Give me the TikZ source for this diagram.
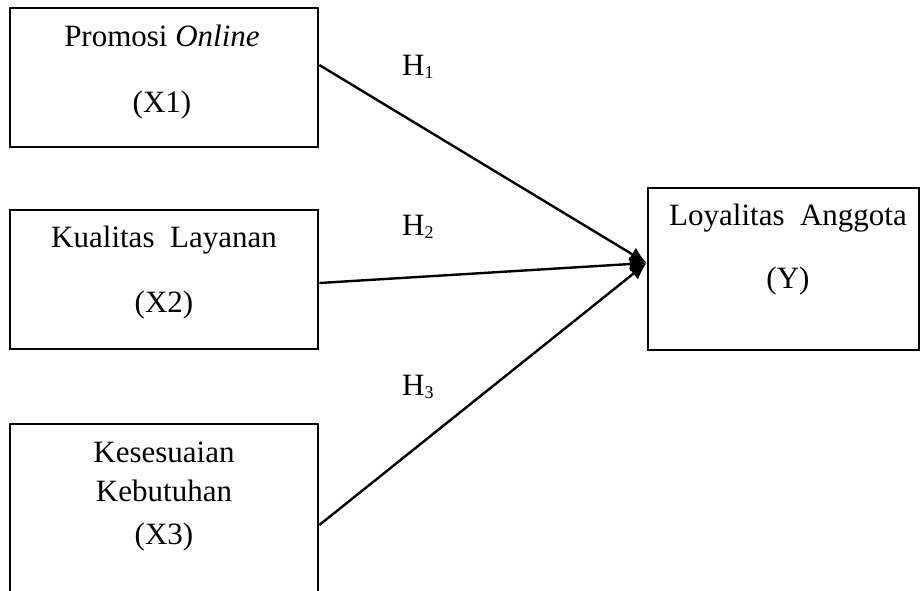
\documentclass[tikz,border=0pt]{standalone}
\usepackage{fontspec}
\setmainfont{Liberation Serif}
\usepackage{tikz}
\usetikzlibrary{arrows.meta,positioning,calc}
\newcommand{\hyp}[1]{H\raisebox{-3pt}{\fontsize{18}{18}\selectfont #1}}
\tikzset{
  box/.style={draw,line width=2.6pt,inner sep=0pt},
  txt/.style={font=\fontsize{31}{39}\selectfont,align=center,inner sep=0pt,anchor=north},
  path/.style={line width=2.4pt,-{Latex[length=17pt,width=15pt]}},
  lab/.style={font=\fontsize{31}{39}\selectfont,inner sep=0pt,anchor=base west}
}
\begin{document}
\begin{tikzpicture}[x=1pt,y=-1pt]
\useasboundingbox(0,0) rectangle (920,590);
\clip(0,0) rectangle (920,590);
% Boxes (x = left..right, y = top..bottom in px)
\node[box,minimum width=308pt,minimum height=139pt](x1)at(164,77.5){};
\node[box,minimum width=308pt,minimum height=139pt](x2)at(164,279.5){};
\node[box,minimum width=308pt,minimum height=236pt](x3)at(164,542){};
\node[box,minimum width=271pt,minimum height=162pt](ly)at(783.5,269){};
% Box texts
\node[txt](x1t)at(162,25){Promosi \textit{Online}\\[27pt](X1)};
\node[txt](x2t)at(164,226){Kualitas\ \ Layanan\\[26pt](X2)};
\node[txt](x3t)at(164,442){Kesesuaian\\Kebutuhan\\[4pt](X3)};
\node[txt](lyt)at(788,204){Loyalitas\ \ Anggota\\[24pt](Y)};
% Hypotheses
\coordinate(tip)at([yshift=6pt]ly.west);
\draw[path]([yshift=12.5pt]x1.east)--(tip);
\draw[path]([yshift=-3.5pt]x2.east)--(tip);
\draw[path]([yshift=17pt]x3.east)--(tip);
\node[lab](h1)at(402,75){\hyp{1}};
\node[lab](h2)at(402,235){\hyp{2}};
\node[lab](h3)at(402,395){\hyp{3}};
\end{tikzpicture}
\end{document}
